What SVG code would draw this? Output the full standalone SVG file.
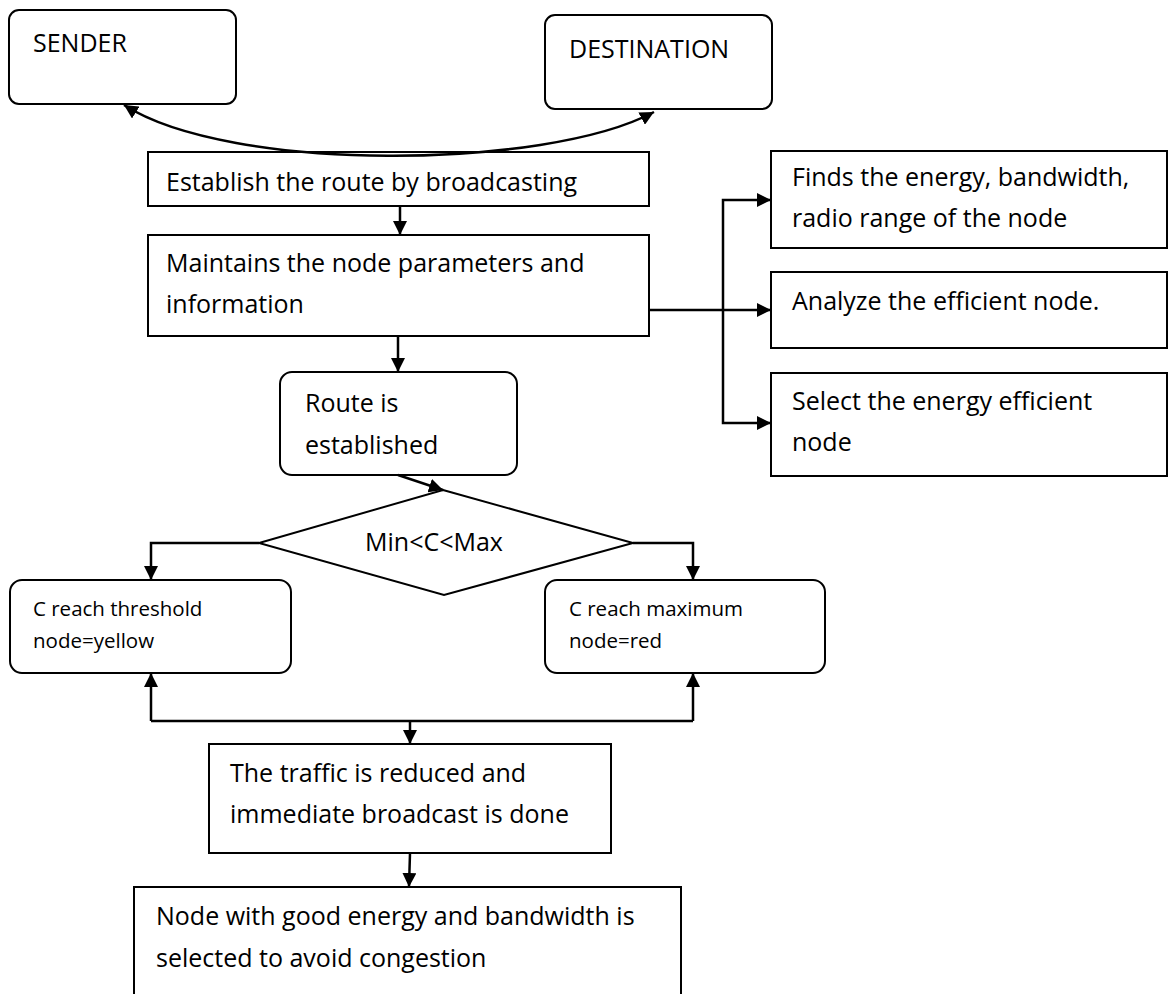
<svg xmlns="http://www.w3.org/2000/svg" width="1168" height="994" viewBox="0 0 1168 994">
<defs>
<style>
.box{fill:#fff;stroke:#000;stroke-width:2}
.t{font-family:"Open Sans","Liberation Sans",sans-serif;font-size:25px;fill:#000}
.s{font-family:"Open Sans","Liberation Sans",sans-serif;font-size:20.5px;fill:#000}
.c{fill:none;stroke:#000;stroke-width:2.5}
</style>
<marker id="a" viewBox="0 0 10 10" refX="10" refY="5" markerWidth="14" markerHeight="14" markerUnits="userSpaceOnUse" orient="auto-start-reverse">
<path d="M0,0 L10,5 L0,10 z" fill="#000"/>
</marker>
</defs>
<rect width="1168" height="994" fill="#fff"/>
<g id="sender"><rect class="box" x="9" y="10" width="227" height="94" rx="10"/><text class="t" x="33" y="52">SENDER</text></g>
<g id="destination"><rect class="box" x="545" y="15" width="227" height="94" rx="10"/><text class="t" x="569" y="58">DESTINATION</text></g>
<g id="establish"><rect class="box" x="148" y="152" width="501" height="54"/><text class="t" x="166" y="191">Establish the route by broadcasting</text></g>
<g id="maintains"><rect class="box" x="148" y="235" width="501" height="101"/><text class="t" x="166" y="272">Maintains the node parameters and</text><text class="t" x="166" y="313">information</text></g>
<g id="finds"><rect class="box" x="771" y="151" width="396" height="97"/><text class="t" x="792" y="186">Finds the energy, bandwidth,</text><text class="t" x="792" y="227">radio range of the node</text></g>
<g id="analyze"><rect class="box" x="771" y="272" width="396" height="76"/><text class="t" x="792" y="310">Analyze the efficient node.</text></g>
<g id="select"><rect class="box" x="771" y="373" width="396" height="103"/><text class="t" x="792" y="410">Select the energy efficient</text><text class="t" x="792" y="451">node</text></g>
<g id="route"><rect class="box" x="280" y="372" width="237" height="103" rx="12"/><text class="t" x="305" y="412">Route is</text><text class="t" x="305" y="454">established</text></g>
<g id="decision"><polygon class="box" points="443,490 633,543 444,595 259,543"/><text class="t" x="434" y="551" text-anchor="middle">Min&lt;C&lt;Max</text></g>
<g id="threshold"><rect class="box" x="10" y="580" width="281" height="93" rx="12"/><text class="s" x="33" y="616">C reach threshold</text><text class="s" x="33" y="648">node=yellow</text></g>
<g id="maximum"><rect class="box" x="545" y="580" width="280" height="93" rx="12"/><text class="s" x="569" y="616">C reach maximum</text><text class="s" x="569" y="648">node=red</text></g>
<g id="traffic"><rect class="box" x="209" y="744" width="402" height="109"/><text class="t" x="230" y="782">The traffic is reduced and</text><text class="t" x="230" y="823">immediate broadcast is done</text></g>
<g id="congestion"><rect class="box" x="134" y="887" width="547" height="120"/><text class="t" x="156" y="925">Node with good energy and bandwidth is</text><text class="t" x="156" y="967">selected to avoid congestion</text></g>
<g id="connectors">
<path class="c" d="M124,105 C230,173 545,170 654,112" marker-start="url(#a)" marker-end="url(#a)"/>
<path class="c" d="M400,206 V235" marker-end="url(#a)"/>
<path class="c" d="M398,336 V372" marker-end="url(#a)"/>
<path class="c" d="M398,475 L443,490" marker-end="url(#a)"/>
<path class="c" d="M649,310 H771" marker-end="url(#a)"/>
<path class="c" d="M723,310 V200 H771" marker-end="url(#a)"/>
<path class="c" d="M723,310 V423 H771" marker-end="url(#a)"/>
<path class="c" d="M259,543 H151 V580" marker-end="url(#a)"/>
<path class="c" d="M633,543 H693 V580" marker-end="url(#a)"/>
<path class="c" d="M151,721 V673" marker-end="url(#a)"/>
<path class="c" d="M693,721 V673" marker-end="url(#a)"/>
<path class="c" d="M151,721 H693"/>
<path class="c" d="M410,721 V744" marker-end="url(#a)"/>
<path class="c" d="M410,853 L409,887" marker-end="url(#a)"/>
</g>
</svg>
